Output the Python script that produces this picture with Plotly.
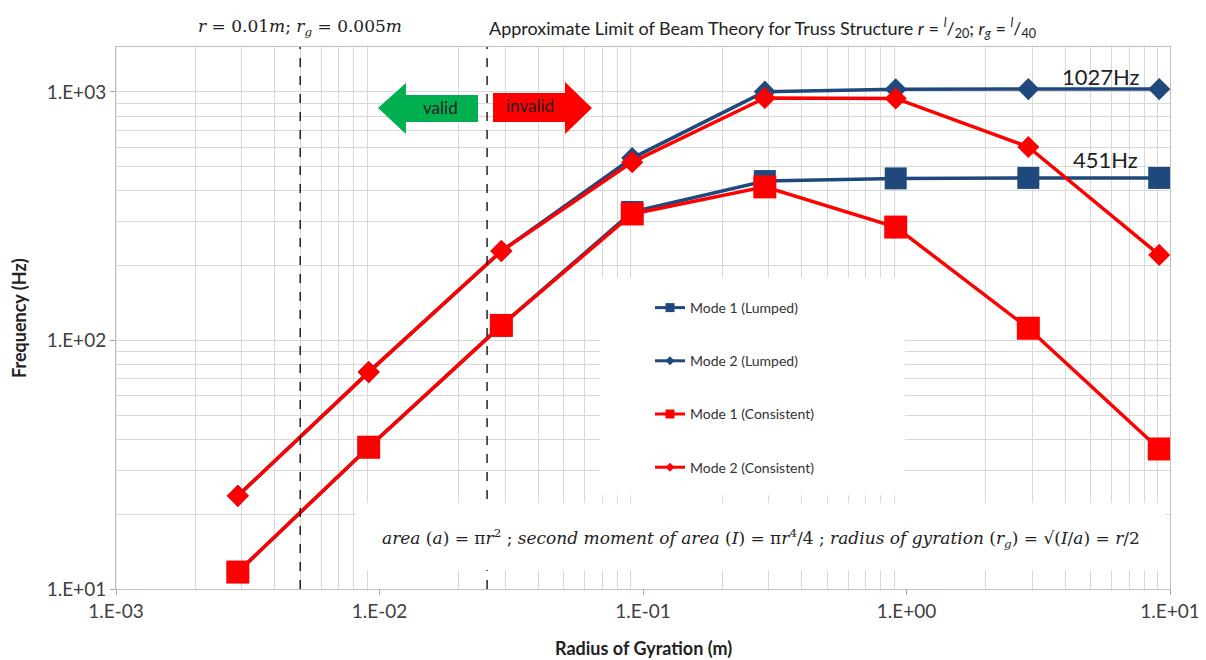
import plotly.graph_objects as go

# radius of gyration (m)
radius = [0.0029, 0.0091, 0.029, 0.091, 0.29, 0.91, 2.9, 9.1]

mode1_lumped = [11.7, 37.2, 115, 329, 438, 449, 451, 451]
mode2_lumped = [23.7, 74.6, 229, 542, 1003, 1025, 1027, 1027]
mode1_consistent = [11.7, 37.2, 115, 323, 415, 286, 112, 36.6]
mode2_consistent = [23.7, 74.6, 229, 522, 946, 942, 601, 221]

x_ticks = [1e-3, 1e-2, 1e-1, 1e0, 1e1]
x_ticktext = ["1.E-03", "1.E-02", "1.E-01", "1.E+00", "1.E+01"]
y_ticks = [1e1, 1e2, 1e3]
y_ticktext = ["1.E+01", "1.E+02", "1.E+03"]

limit_lines = [0.005, 0.0256]

BLUE = "#1F497D"
RED = "#FF0000"
GRID = "#D9D9D9"
FONT = "Lato"

# page offset of the figure (body margin) and plot area in window pixels
OFF = 8
W, H = 1198, 652
L, R, T, B = 116, 1170, 47, 589


def px(x):
    return (x - L) / (R - L)


def py(y):
    return (B - y) / (B - T)


fig = go.Figure()

series = [
    ("Mode 1 (Lumped)", mode1_lumped, BLUE, "square", 22),
    ("Mode 2 (Lumped)", mode2_lumped, BLUE, "diamond", 17),
    ("Mode 1 (Consistent)", mode1_consistent, RED, "square", 23),
    ("Mode 2 (Consistent)", mode2_consistent, RED, "diamond", 17),
]
for name, vals, col, sym, size in series:
    fig.add_trace(go.Scatter(
        x=radius, y=vals, name=name, mode="lines+markers", showlegend=False,
        line=dict(color=col, width=3.5),
        marker=dict(symbol=sym, size=size, color=col),
    ))
# legend entries with small markers, as in the original
for name, vals, col, sym, size in series:
    fig.add_trace(go.Scatter(
        x=[None], y=[None], name=name, mode="lines+markers", legendgroup=name,
        line=dict(color=col, width=3),
        marker=dict(symbol=sym, size=9 if sym == "square" else 7, color=col),
    ))

minor_x = [m * 10 ** e for e in range(-3, 1) for m in range(2, 10)]
minor_y = [m * 10 ** e for e in range(1, 4) for m in range(2, 10)]

fig.update_xaxes(
    type="log", range=[-3, 1], tickvals=x_ticks, ticktext=x_ticktext,
    showgrid=False, ticks="outside", ticklen=5, tickcolor="#A6A6A6",
    showline=True, linecolor="#BFBFBF", mirror=True, automargin=False,
    minor=dict(tickvals=minor_x, showgrid=True, gridcolor=GRID, ticks=""),
    tickfont=dict(family=FONT, size=19, color="#404040"),
    zeroline=False,
)
fig.update_yaxes(
    type="log", range=[1, 3.181], tickvals=y_ticks, ticktext=y_ticktext,
    showgrid=True, gridcolor=GRID, ticks="outside", ticklen=5, tickcolor="#A6A6A6",
    showline=True, linecolor="#BFBFBF", mirror=True, automargin=False,
    minor=dict(tickvals=minor_y, showgrid=True, gridcolor=GRID, ticks=""),
    tickfont=dict(family=FONT, size=19, color="#404040"),
    zeroline=False,
)
fig.add_vline(x=1e-3, line=dict(color=GRID, width=1))

for xv in limit_lines:
    fig.add_shape(type="line", xref="x", yref="paper", x0=xv, x1=xv, y0=0, y1=1,
                  line=dict(color="black", width=1.3, dash="dash"), layer="above")

# white boxes behind the legend and the formula
fig.add_shape(type="rect", xref="paper", yref="paper", x0=px(600), x1=px(905),
              y0=py(495), y1=py(278), fillcolor="white", line=dict(width=0), layer="above")
fig.add_shape(type="rect", xref="paper", yref="paper", x0=px(356), x1=px(1166),
              y0=py(570), y1=py(503), fillcolor="white", line=dict(width=0), layer="above")


# valid / invalid arrows
def arrow_path(pts):
    return "M " + " L ".join(f"{px(a):.4f},{py(b):.4f}" for a, b in pts) + " Z"


green = [(378, 108), (406, 83), (406, 95), (478, 95), (478, 122), (406, 122), (406, 134)]
red = [(592, 108), (565, 82), (565, 93), (493, 93), (493, 122), (565, 122), (565, 134)]
fig.add_shape(type="path", xref="paper", yref="paper", path=arrow_path(green),
              fillcolor="#00B050", line=dict(width=0), layer="above")
fig.add_shape(type="path", xref="paper", yref="paper", path=arrow_path(red),
              fillcolor=RED, line=dict(width=0), layer="above")

ann = [
    dict(x=px(440), y=py(107), text="valid", font=dict(family=FONT, size=17, color="#222")),
    dict(x=px(530), y=py(105), text="invalid", font=dict(family=FONT, size=17, color="#222")),
    dict(x=px(1101), y=py(76), text="1027Hz", font=dict(family=FONT, size=22, color="#222")),
    dict(x=px(1105), y=py(160), text="451Hz", font=dict(family=FONT, size=22, color="#222")),
    dict(x=px(300), y=py(28),
         text="<i>r</i> = 0.01<i>m</i>; <i>r<sub>g</sub></i> = 0.005<i>m</i>",
         font=dict(family="DejaVu Serif", size=17, color="#222")),
    dict(x=px(487), y=py(28), xanchor="left",
         text="Approximate Limit of Beam Theory for Truss Structure "
              "<i>r</i> = <sup><i>l</i></sup>/<sub>20</sub>; "
              "<i>r<sub>g</sub></i> = <sup><i>l</i></sup>/<sub>40</sub>",
         font=dict(family=FONT, size=18, color="#222")),
    dict(x=px(761), y=py(538),
         text="<i>area</i> (<i>a</i>) = π<i>r</i><sup>2</sup> ; "
              "<i>second moment of area</i> (<i>I</i>) = π<i>r</i><sup>4</sup>/4 ; "
              "<i>radius of gyration</i> (<i>r<sub>g</sub></i>) = √(<i>I</i>/<i>a</i>) = <i>r</i>/2",
         font=dict(family="DejaVu Serif", size=17, color="#222")),
    # axis titles
    dict(x=px(643), y=py(648), text="<b>Radius of Gyration (m)</b>",
         font=dict(family=FONT, size=18, color="#222")),
    dict(x=px(19), y=py(318), text="<b>Frequency (Hz)</b>", textangle=-90,
         font=dict(family=FONT, size=18, color="#222")),
]
for a in ann:
    a.setdefault("xanchor", "center")
    fig.add_annotation(xref="paper", yref="paper", showarrow=False, yanchor="middle", **a)

fig.update_layout(
    width=W, height=H,
    margin=dict(l=L - OFF, r=W + OFF - R, t=T - OFF, b=H + OFF - B),
    paper_bgcolor="white", plot_bgcolor="white",
    legend=dict(x=px(650), y=py(292), xanchor="left", yanchor="top",
                bgcolor="rgba(0,0,0,0)", tracegroupgap=32,
                font=dict(family=FONT, size=14, color="#333")),
    showlegend=True,
)

fig.write_html("out.html")
